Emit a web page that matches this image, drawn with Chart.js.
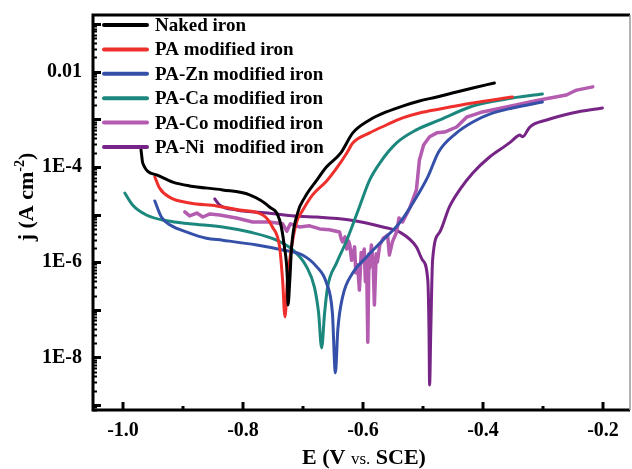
<!DOCTYPE html>
<html>
<head>
<meta charset="utf-8">
<title>Tafel plot</title>
<script src="https://cdn.jsdelivr.net/npm/chart.js@4.4.0/dist/chart.umd.min.js"></script>
<style>
    html, body { margin: 0; padding: 0; background: #fff; }
    #wrap { width: 632px; height: 469px; position: relative; }
</style>
</head>
<body>
<div id="wrap"><canvas id="tafel-chart"></canvas></div>
<script>
// Potential (V vs. SCE) and current density (A cm-2)
const nakedE = [-0.970, -0.967, -0.944, -0.917, -0.889, -0.834, -0.789, -0.756, -0.739, -0.731, -0.726, -0.725, -0.722, -0.719, -0.709, -0.697, -0.677, -0.661, -0.637, -0.617, -0.589, -0.561, -0.534, -0.506, -0.477, -0.444, -0.417, -0.381];
const nakedJ = [2.3e-4, 1.2e-4, 6.8e-5, 4.8e-5, 4.0e-5, 3.3e-5, 2.6e-5, 1.45e-5, 7.7e-6, 2.1e-6, 4.2e-7, 1.27e-7, 4.2e-7, 2.1e-6, 1.08e-5, 2.3e-5, 5.3e-5, 1.0e-4, 1.97e-4, 5.2e-4, 9.7e-4, 1.43e-3, 1.9e-3, 2.43e-3, 2.94e-3, 3.75e-3, 4.55e-3, 5.8e-3];

const paE = [-0.947, -0.939, -0.922, -0.889, -0.844, -0.806, -0.767, -0.751, -0.739, -0.734, -0.730, -0.726, -0.719, -0.711, -0.701, -0.684, -0.661, -0.644, -0.627, -0.617, -0.589, -0.561, -0.534, -0.506, -0.472, -0.417, -0.351];
const paJ = [6.2e-5, 3.6e-5, 2.3e-5, 1.75e-5, 1.52e-5, 1.25e-5, 9.8e-6, 5.5e-6, 2.1e-6, 4.2e-7, 7.1e-8, 4.2e-7, 2.1e-6, 6.7e-6, 1.2e-5, 2.6e-5, 5.0e-5, 9.4e-5, 1.97e-4, 3.2e-4, 5.2e-4, 7.6e-4, 1.07e-3, 1.36e-3, 1.65e-3, 2.2e-3, 2.94e-3];

const znE = [-0.947, -0.936, -0.922, -0.889, -0.861, -0.834, -0.777, -0.734, -0.701, -0.677, -0.661, -0.651, -0.646, -0.642, -0.634, -0.617, -0.594, -0.567, -0.539, -0.514, -0.492, -0.474, -0.444, -0.417, -0.389, -0.351, -0.301];
const znJ = [1.93e-5, 8.9e-6, 6.1e-6, 4.1e-6, 3.2e-6, 2.9e-6, 2.3e-6, 1.81e-6, 1.42e-6, 8.0e-7, 3.7e-7, 8.6e-8, 4.75e-9, 3.8e-8, 1.87e-7, 6.0e-7, 1.29e-6, 2.9e-6, 6.7e-6, 2.0e-5, 6.2e-5, 2.07e-4, 5.2e-4, 8.8e-4, 1.29e-3, 1.73e-3, 2.31e-3];

const caE = [-0.997, -0.984, -0.961, -0.927, -0.889, -0.834, -0.789, -0.744, -0.717, -0.694, -0.681, -0.674, -0.669, -0.664, -0.659, -0.644, -0.627, -0.606, -0.589, -0.572, -0.544, -0.511, -0.472, -0.417, -0.361, -0.301];
const caJ = [2.84e-5, 1.59e-5, 9.8e-6, 7.4e-6, 6.4e-6, 5.5e-6, 4.3e-6, 2.9e-6, 1.81e-6, 8.0e-7, 3.0e-7, 8.6e-8, 1.59e-8, 8.6e-8, 3.0e-7, 9.7e-7, 2.9e-6, 1.45e-5, 5.3e-5, 1.21e-4, 3.2e-4, 6.0e-4, 9.7e-4, 1.9e-3, 2.67e-3, 3.4e-3];

const coE = [-0.897, -0.889, -0.877, -0.867, -0.855, -0.839, -0.811, -0.784, -0.756, -0.734, -0.727, -0.721, -0.706, -0.689, -0.672, -0.656,
    -0.639, -0.636, -0.634, -0.630, -0.627, -0.624, -0.622, -0.619, -0.617, -0.614, -0.612, -0.609, -0.606, -0.603, -0.601, -0.598, -0.596, -0.594, -0.592, -0.590, -0.589, -0.586, -0.583, -0.581, -0.578, -0.576, -0.572,
    -0.566, -0.559, -0.556, -0.551, -0.544, -0.540, -0.534, -0.522, -0.511, -0.506, -0.499, -0.489, -0.477, -0.464, -0.444, -0.427, -0.417, -0.401, -0.361, -0.306, -0.261, -0.251, -0.244, -0.217];
const coJ = [1.14e-5, 9.4e-6, 1.08e-5, 8.9e-6, 1.03e-5, 9.8e-6, 8.5e-6, 7.0e-6, 7.0e-6, 6.4e-6, 4.5e-6, 6.4e-6, 5.5e-6, 5.8e-6, 5.0e-6, 4.8e-6,
    4.3e-6, 3.0e-6, 2.67e-6, 3.4e-6, 1.9e-6, 2.8e-6, 2.3e-6, 1.1e-6, 1.42e-6, 2.1e-6, 6.0e-7, 8.8e-7, 2.6e-7, 1.6e-6, 1.01e-6, 1.9e-6, 3.9e-7, 1.2e-6, 2.1e-8, 1.5e-6, 7.6e-7, 2.3e-6, 9.0e-7, 1.27e-7, 1.5e-6, 1.01e-6, 2.3e-6,
    3.2e-6, 3.7e-6, 1.42e-6, 2.67e-6, 4.3e-6, 8.5e-6, 7.0e-6, 1.38e-5, 3.3e-5, 1.4e-4, 2.9e-4, 4.3e-4, 5.2e-4, 5.4e-4, 6.9e-4, 1.12e-3, 1.23e-3, 1.43e-3, 1.82e-3, 2.55e-3, 3.24e-3, 3.75e-3, 4.1e-3, 4.8e-3];

const niE = [-0.847, -0.839, -0.811, -0.756, -0.706, -0.677, -0.622, -0.567, -0.539, -0.511, -0.501, -0.492, -0.490, -0.489, -0.487, -0.484, -0.472, -0.456, -0.439, -0.417, -0.389, -0.356, -0.344, -0.339, -0.334, -0.322, -0.294, -0.251, -0.201];
const niJ = [2.13e-5, 1.59e-5, 1.25e-5, 1.07e-5, 9.2e-6, 8.9e-6, 7.7e-6, 5.5e-6, 4.3e-6, 2.1e-6, 1.12e-6, 4.2e-7, 3.8e-8, 2.66e-9, 3.8e-8, 1.12e-6, 4.3e-6, 1.45e-5, 3.3e-5, 7.5e-5, 1.62e-4, 3.2e-4, 4.3e-4, 4.7e-4, 4.3e-4, 6.9e-4, 9.7e-4, 1.36e-3, 1.73e-3];

const seriesLabels = ['Naked iron', 'PA modified iron', 'PA-Zn modified iron', 'PA-Ca modified iron', 'PA-Co modified iron', 'PA-Ni  modified iron'];
const seriesColors = ['#000000', '#ee2f2b', '#3450a8', '#1b877d', '#b35cb0', '#762586'];

const xTicks = [-1.0, -0.8, -0.6, -0.4, -0.2];
const xMinorTicks = [-0.9, -0.7, -0.5, -0.3];
const yTicks = [1e-2, 1e-4, 1e-6, 1e-8];
const yTickLabels = ['0.01', '1E-4', '1E-6', '1E-8'];

const FONT = '"Liberation Serif", "Times New Roman", serif';

function toPoints(xs, ys) {
    return xs.map((x, i) => ({ x: x, y: ys[i] }));
}

const curves = [[nakedE, nakedJ], [paE, paJ], [znE, znJ], [caE, caJ], [coE, coJ], [niE, niJ]];

const datasets = curves.map(([xs, ys], i) => ({
    label: seriesLabels[i],
    data: toPoints(xs, ys),
    borderColor: seriesColors[i],
    backgroundColor: seriesColors[i],
    borderWidth: i === 4 ? 3.5 : 3,
    pointRadius: 0,
    fill: false,
    // the noisy PA-Co trace stays jagged, the others are smooth
    tension: i === 4 ? 0 : 0.4,
    cubicInterpolationMode: i === 4 ? 'default' : 'monotone',
    borderJoinStyle: 'round',
    borderCapStyle: 'round'
}));

// Inward tick marks and the box round the plot
const frameTicks = {
    id: 'frameTicks',
    afterDraw(chart) {
        const { ctx, chartArea: a, scales: { x, y } } = chart;
        ctx.save();
        ctx.strokeStyle = '#000';
        ctx.lineCap = 'butt';

        for (let e = -10; e <= 0; e++) {
            for (let m = 1; m <= 9; m++) {
                const v = m * Math.pow(10, e);
                if (v < y.min || v > y.max) continue;
                const py = Math.round(y.getPixelForValue(v)) + 0.5;
                ctx.lineWidth = m === 1 ? 3 : 2;
                ctx.beginPath();
                ctx.moveTo(a.left, py);
                ctx.lineTo(a.left + (m === 1 ? 8 : 4), py);
                ctx.stroke();
            }
        }

        xTicks.concat(xMinorTicks).forEach(v => {
            const major = xTicks.includes(v);
            const px = x.getPixelForValue(v);
            ctx.lineWidth = 3;
            ctx.beginPath();
            ctx.moveTo(px, a.bottom);
            ctx.lineTo(px, a.bottom - (major ? 8 : 4));
            ctx.stroke();
        });

        ctx.lineWidth = 3;
        ctx.beginPath();
        ctx.moveTo(a.right, a.top);
        ctx.lineTo(a.left, a.top);
        ctx.lineTo(a.left, a.bottom);
        ctx.lineTo(a.right, a.bottom);
        ctx.stroke();

        ctx.strokeStyle = '#999';
        ctx.lineWidth = 1.5;
        ctx.beginPath();
        ctx.moveTo(a.right, a.top);
        ctx.lineTo(a.right, a.bottom);
        ctx.stroke();
        ctx.restore();
    }
};

// Legend drawn inside the plot, top left
const innerLegend = {
    id: 'innerLegend',
    afterDraw(chart) {
        const { ctx, chartArea: a } = chart;
        ctx.save();
        ctx.font = `bold 19px ${FONT}`;
        ctx.textBaseline = 'middle';
        ctx.fillStyle = '#000';
        chart.data.datasets.forEach((ds, i) => {
            const ly = a.top + 10 + i * 24.4;
            ctx.strokeStyle = ds.borderColor;
            ctx.lineWidth = 4;
            ctx.lineCap = 'round';
            ctx.beginPath();
            ctx.moveTo(a.left + 11, ly);
            ctx.lineTo(a.left + 54, ly);
            ctx.stroke();
            ctx.fillText(ds.label, a.left + 62, ly + 1);
        });
        ctx.restore();
    }
};

// Axis titles (mixed styles and a superscript)
const axisTitles = {
    id: 'axisTitles',
    afterDraw(chart) {
        const { ctx } = chart;
        ctx.save();
        ctx.fillStyle = '#000';
        ctx.textBaseline = 'alphabetic';

        const big = `bold 22px ${FONT}`;
        const small = `17px ${FONT}`;
        const parts = [['E (V ', big], ['vs.', small], [' SCE)', big]];
        let total = 0;
        parts.forEach(([t, f]) => { ctx.font = f; total += ctx.measureText(t).width; });
        let tx = 364 - total / 2;
        parts.forEach(([t, f]) => {
            ctx.font = f;
            ctx.fillText(t, tx, 464);
            tx += ctx.measureText(t).width;
        });

        ctx.translate(33, 197);
        ctx.rotate(-Math.PI / 2);
        const sup = `bold 14px ${FONT}`;
        const yParts = [['j (A cm', big, 0], ['-2', sup, -9], [')', big, 0]];
        total = 0;
        yParts.forEach(([t, f]) => { ctx.font = f; total += ctx.measureText(t).width; });
        tx = -total / 2;
        yParts.forEach(([t, f, dy]) => {
            ctx.font = f;
            ctx.fillText(t, tx, dy);
            tx += ctx.measureText(t).width;
        });
        ctx.restore();
    }
};

const tickFont = { family: FONT, size: 20, weight: 'bold' };

new Chart(document.getElementById('tafel-chart'), {
    type: 'line',
    data: { datasets: datasets },
    options: {
        responsive: true,
        maintainAspectRatio: false,
        animation: false,
        devicePixelRatio: 1,
        layout: { padding: { left: 0, right: 2, top: 15, bottom: 0 } },
        plugins: {
            legend: { display: false },
            tooltip: { enabled: false }
        },
        scales: {
            x: {
                type: 'linear',
                min: -1.05,
                max: -0.155,
                grid: { display: false, drawTicks: false },
                border: { display: false },
                afterBuildTicks: scale => { scale.ticks = xTicks.map(v => ({ value: v })); },
                afterFit: scale => {
                    scale.height = 59;
                    scale.paddingLeft = 0;
                    scale.paddingRight = 0;
                },
                ticks: {
                    autoSkip: false,
                    maxRotation: 0,
                    padding: 9,
                    color: '#000',
                    font: tickFont,
                    callback: v => v.toFixed(1)
                }
            },
            y: {
                type: 'logarithmic',
                min: 7.9e-10,
                max: 0.155,
                grid: { display: false, drawTicks: false },
                border: { display: false },
                afterBuildTicks: scale => { scale.ticks = yTicks.map(v => ({ value: v })); },
                afterFit: scale => {
                    scale.width = 93;
                    scale.paddingTop = 0;
                    scale.paddingBottom = 0;
                },
                ticks: {
                    autoSkip: false,
                    padding: 11,
                    color: '#000',
                    font: tickFont,
                    callback: (v, i) => yTickLabels[i]
                }
            }
        }
    },
    plugins: [frameTicks, innerLegend, axisTitles]
});
</script>
</body>
</html>
